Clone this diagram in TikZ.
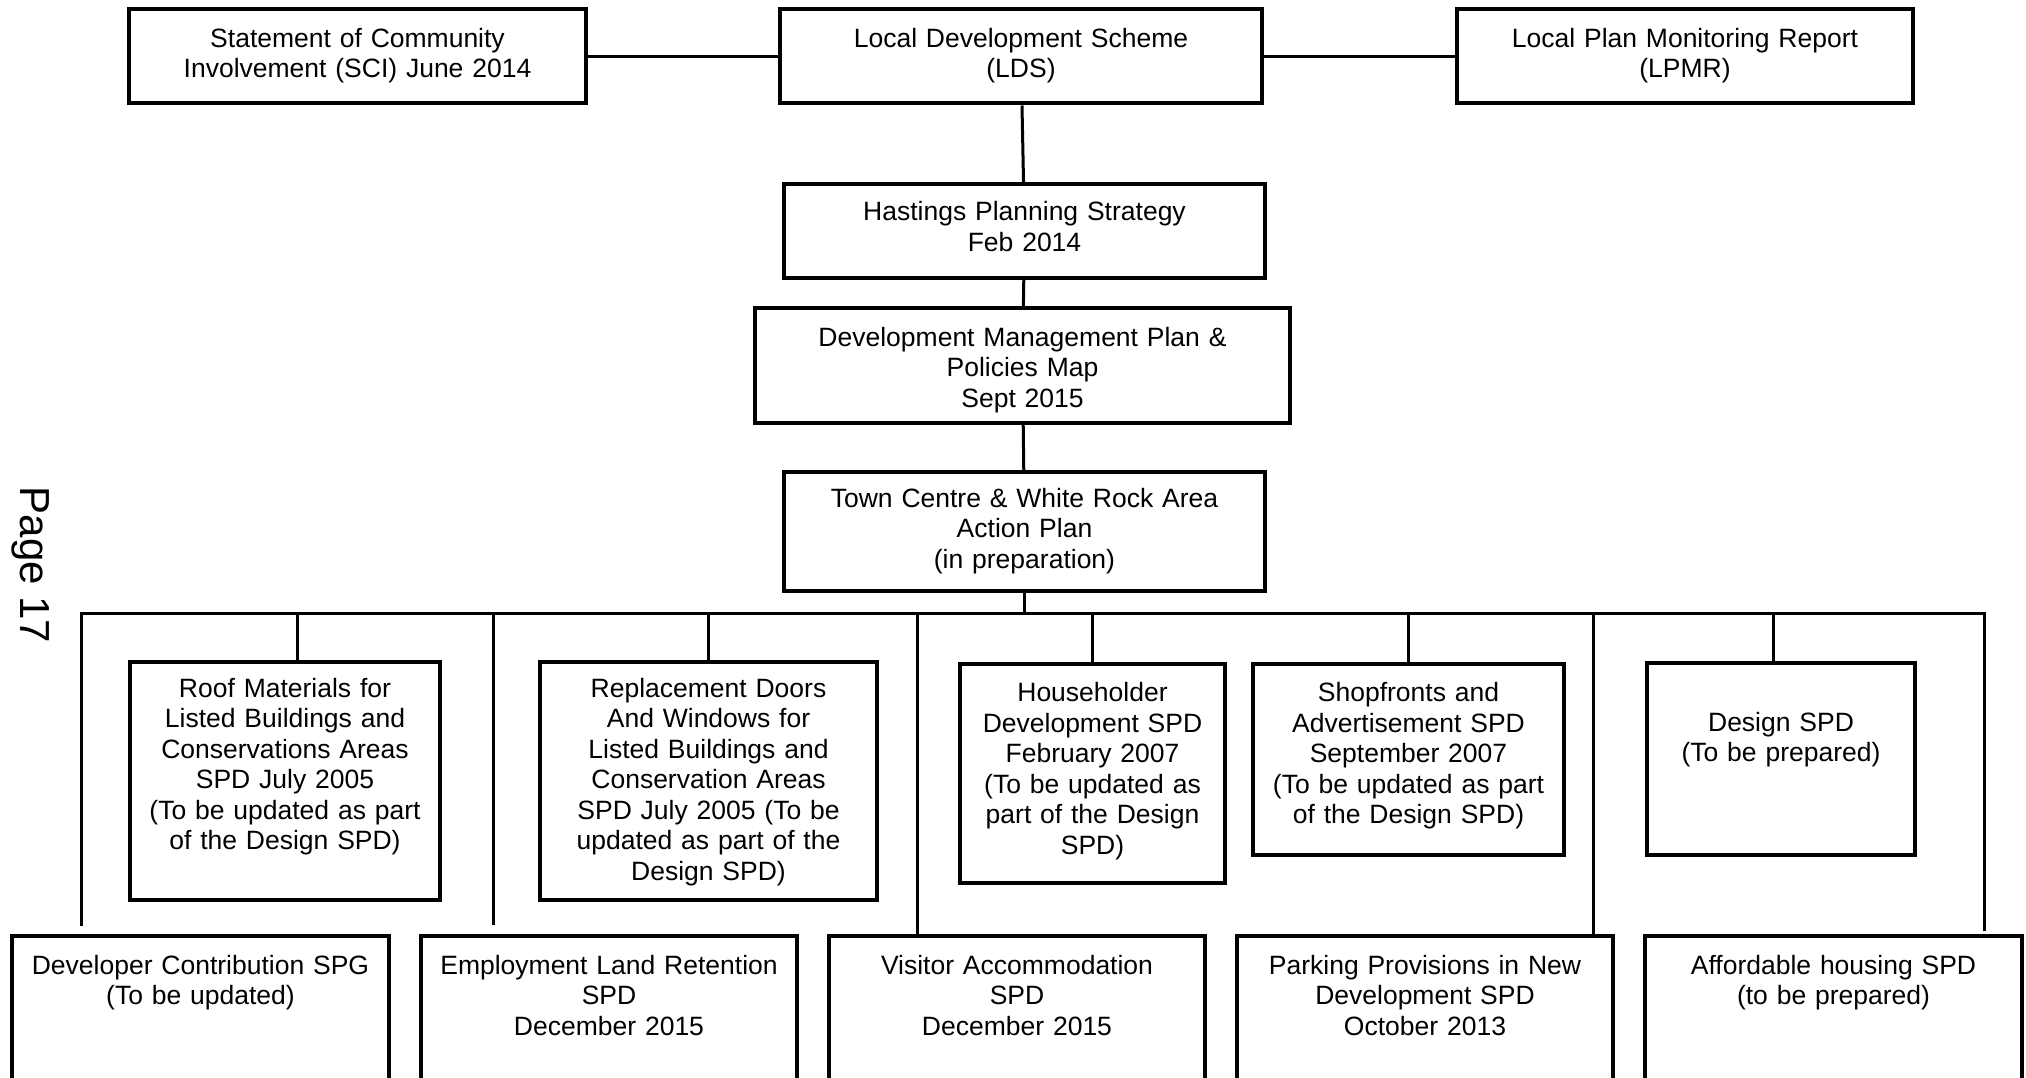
\documentclass[tikz,border=0pt]{standalone}
\usepackage{fontspec}
\setmainfont{Liberation Sans}
\usepackage{tikz}
\usetikzlibrary{calc}
\newcommand{\boxfont}{\fontsize{26.5}{30.5}\selectfont}
\newcommand{\pagefont}{\fontsize{42}{48}\selectfont}

\begin{document}
\begin{tikzpicture}[
  x=1pt, y=-1pt,
  docbox/.style={draw,line width=4pt,inner xsep=0pt,inner ysep=12pt,
                 align=center,anchor=north west,font=\boxfont},
  link/.style={line width=3pt}
]
  \useasboundingbox (0,0) rectangle (2026,1078);
  \clip (0,0) rectangle (2026,1078);

  % top row
  \node[docbox,text width=457pt,text height=26.3pt,text depth=44.2pt] (sci) at (127,7)
    {Statement of Community\\Involvement (SCI) June 2014};
  \node[docbox,text width=482pt,text height=26.3pt,text depth=44.2pt] (lds) at (778,7)
    {Local Development Scheme\\(LDS)};
  \node[docbox,text width=456pt,text height=26.3pt,text depth=44.2pt] (lpmr) at (1455,7)
    {Local Plan Monitoring Report\\(LPMR)};

  % main spine
  \node[docbox,text width=481pt,text height=25pt,text depth=45pt] (hps) at (782,182)
    {Hastings Planning Strategy\\Feb 2014};
  \node[docbox,text width=535pt,text height=26pt,text depth=65pt] (dmp) at (753,306)
    {Development Management Plan \&\\Policies Map\\Sept 2015};
  \node[docbox,text width=481pt,text height=23pt,text depth=72pt] (tc) at (782,470)
    {Town Centre \& White Rock Area\\Action Plan\\(in preparation)};

  % upper row of SPDs
  \node[docbox,text width=310pt,text height=23pt,text depth=191pt] (roof) at (128,660)
    {Roof Materials for\\Listed Buildings and\\Conservations Areas\\SPD July 2005\\(To be updated as part\\of the Design SPD)};
  \node[docbox,text width=337pt,text height=23pt,text depth=191pt] (rdw) at (538,660)
    {Replacement Doors\\And Windows for\\Listed Buildings and\\Conservation Areas\\SPD July 2005 (To be\\updated as part of the\\Design SPD)};
  \node[docbox,text width=265pt,text height=25.5pt,text depth=169.5pt] (hhd) at (958,662)
    {Householder\\Development SPD\\February 2007\\(To be updated as\\part of the Design\\SPD)};
  \node[docbox,text width=311pt,text height=25.5pt,text depth=141.5pt] (shop) at (1251,662)
    {Shopfronts and\\Advertisement SPD\\September 2007\\(To be updated as part\\of the Design SPD)};
  \node[docbox,text width=268pt,text height=56pt,text depth=112pt] (dspd) at (1645,661)
    {Design SPD\\(To be prepared)};

  % lower row, running off the page
  \node[docbox,text width=377pt,text height=26pt,text depth=132pt] (dcs) at (10,934)
    {Developer Contribution SPG\\(To be updated)};
  \node[docbox,text width=376pt,text height=26pt,text depth=132pt] (elr) at (419,934)
    {Employment Land Retention\\SPD\\December 2015};
  \node[docbox,text width=376pt,text height=26pt,text depth=132pt] (vac) at (827,934)
    {Visitor Accommodation\\SPD\\December 2015};
  \node[docbox,text width=376pt,text height=26pt,text depth=132pt] (ppd) at (1235,934)
    {Parking Provisions in New\\Development SPD\\October 2013};
  \node[docbox,text width=377pt,text height=26pt,text depth=132pt] (ahs) at (1643,934)
    {Affordable housing SPD\\(to be prepared)};

  \node[rotate=-90,font=\pagefont] (pagenum) at (31,565) {Page 17};

  % connectors
  \draw[link] (sci) -- (lds);
  \draw[link] (lds) -- (lpmr);
  \draw[link] (lds) -- (hps);
  \draw[link] (hps) -- (dmp);
  \draw[link] (dmp) -- (tc);

  \coordinate (busl) at (81,613);
  \coordinate (busr) at (1984,613);
  \coordinate (bus2) at (493,613);
  \coordinate (bus3) at (917,613);
  \coordinate (bus4) at (1593,613);
  \coordinate (tap1) at (297,613);
  \coordinate (tap5) at (1773,613);

  \draw[link] (tc) -- (tc |- busl);
  \draw[link] ([yshift=8pt]busl |- dcs.north) -- (busl) -- (busr) -- ([yshift=3pt]busr |- ahs.north);
  \draw[link] (bus2) -- ([yshift=9pt]bus2 |- elr.north);
  \draw[link] (bus3) -- (bus3 |- vac.north);
  \draw[link] (bus4) -- (bus4 |- ppd.north);
  \draw[link] (tap1) -- (tap1 |- roof.north);
  \draw[link] (rdw.north) -- (rdw.north |- busl);
  \draw[link] (hhd.north) -- (hhd.north |- busl);
  \draw[link] (shop.north) -- (shop.north |- busl);
  \draw[link] (tap5) -- (tap5 |- dspd.north);
\end{tikzpicture}
\end{document}
